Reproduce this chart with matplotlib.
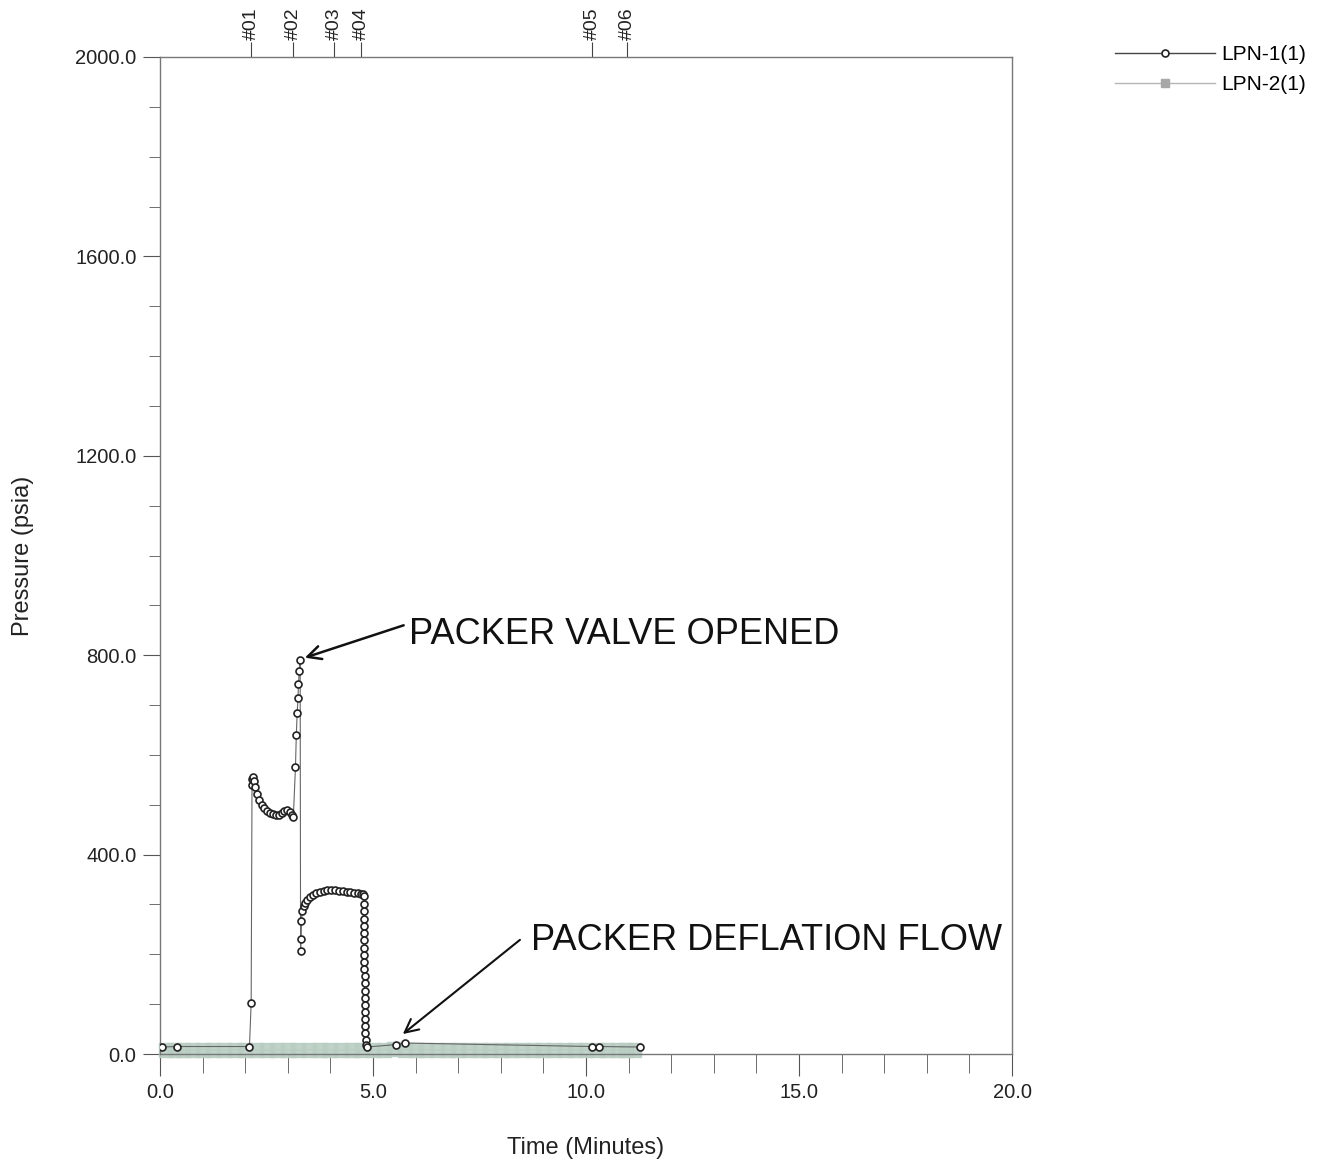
import numpy as np
import matplotlib
matplotlib.use('Agg')
import matplotlib.pyplot as plt
from matplotlib.lines import Line2D
from matplotlib.ticker import MultipleLocator, FormatStrFormatter

plt.rcParams['font.family'] = ['Liberation Sans', 'DejaVu Sans']

# LPN-1(1) pressure record, split by test phase (minutes, psia)
base_t = [0.05, 0.40, 2.10]
base_p = [14, 15, 15]
shutin_t = [2.14, 2.16, 2.17, 2.19, 2.21, 2.24, 2.28, 2.33, 2.39, 2.45, 2.52,
            2.59, 2.66, 2.73, 2.80, 2.86, 2.92, 2.98, 3.04, 3.09, 3.13]
shutin_p = [102, 540, 552, 555, 548, 536, 522, 510, 500, 493, 488,
            484, 481, 479, 480, 484, 488, 490, 486, 480, 475]
valve_t = [3.18, 3.20, 3.22, 3.24, 3.25, 3.27, 3.29]
valve_p = [576, 640, 685, 714, 742, 769, 790]
hump_t = [3.30, 3.31, 3.32, 3.34, 3.37, 3.41, 3.46, 3.52, 3.59, 3.67, 3.75, 3.84,
          3.93, 4.02, 4.11, 4.20, 4.29, 4.38, 4.47, 4.56, 4.64, 4.71, 4.76]
hump_p = [207, 231, 267, 287, 296, 303, 309, 314, 318, 322, 325, 327,
          328, 328, 328, 327, 326, 325, 324, 323, 322, 321, 320]
drop_t = [4.78, 4.79, 4.79, 4.79, 4.79, 4.80, 4.80, 4.80, 4.80, 4.80, 4.80,
          4.81, 4.81, 4.81, 4.81, 4.81, 4.81, 4.82, 4.82, 4.82, 4.83]
drop_p = [316, 301, 286, 271, 257, 242, 228, 213, 199, 185, 170,
          156, 142, 127, 113, 99, 85, 70, 56, 42, 28]
tail_t = [4.84, 4.86, 5.55, 5.75, 10.15, 10.30, 11.27]
tail_p = [18, 14, 19, 22, 15, 15, 14]

# LPN-2(1) record
lpn2_t = [0.15, 0.35, 0.55, 0.75, 1.00, 1.25, 1.50, 1.75, 2.00, 2.25, 2.50, 2.75,
          3.00, 3.25, 3.50, 3.75, 4.00, 4.25, 4.50, 4.75, 5.00, 5.25, 5.50, 5.75,
          6.00, 6.25, 6.50, 6.75, 7.00, 7.25, 7.50, 7.75, 8.00, 8.25, 8.50, 8.75,
          9.00, 9.25, 9.50, 9.75, 10.00, 10.25, 10.50, 10.75, 10.95, 11.12]
lpn2_p = [8, 9, 8, 8, 9, 8, 8, 9, 8, 8, 8, 9,
          8, 8, 9, 8, 8, 8, 9, 8, 9, 9, 10, 9,
          9, 9, 8, 9, 8, 9, 8, 8, 9, 8, 8, 9,
          8, 8, 9, 8, 8, 9, 8, 8, 8, 8]

# event markers along the top
event_t = [2.14, 3.13, 4.09, 4.72, 10.15, 10.97]
event_lab = ['#01', '#02', '#03', '#04', '#05', '#06']

lpn1_t = base_t + shutin_t + valve_t + hump_t + drop_t + tail_t
lpn1_p = base_p + shutin_p + valve_p + hump_p + drop_p + tail_p

fig = plt.figure(figsize=(13.26, 11.64), dpi=100)
ax = fig.add_axes([160/1326, 1-1054/1164, 852/1326, 997/1164])

grey2 = '#b9cdc3'
ax.plot(lpn2_t, lpn2_p, '-', marker='s', markersize=10, color=grey2,
        markerfacecolor=grey2, markeredgecolor=grey2, lw=0.8, alpha=0.9, zorder=2,
        clip_on=False)
ax.plot(lpn1_t, lpn1_p, '-', marker='o', markersize=5, color='#666666', lw=0.8,
        markerfacecolor='white', markeredgecolor='#222222', markeredgewidth=1.2, zorder=3)

ax.set_xlim(0, 20)
ax.set_ylim(0, 2000)
ax.xaxis.set_major_locator(MultipleLocator(5))
ax.xaxis.set_minor_locator(MultipleLocator(1))
ax.yaxis.set_major_locator(MultipleLocator(400))
ax.yaxis.set_minor_locator(MultipleLocator(100))
ax.xaxis.set_major_formatter(FormatStrFormatter('%.1f'))
ax.yaxis.set_major_formatter(FormatStrFormatter('%.1f'))
ax.tick_params(axis='both', which='both', direction='out', colors='#555555',
               labelcolor='#222222', labelsize=14.5)
ax.tick_params(axis='x', which='major', length=16, pad=5)
ax.tick_params(axis='x', which='minor', length=14)
ax.tick_params(axis='y', which='major', length=12, pad=5)
ax.tick_params(axis='y', which='minor', length=8)
for s in ax.spines.values():
    s.set_color('#777777')
    s.set_linewidth(1.0)

ax.set_xlabel('Time (Minutes)', fontsize=17, color='#222222')
ax.set_ylabel('Pressure (psia)', fontsize=17, color='#222222')
ax.xaxis.set_label_coords(0.5, -0.083)
ax.yaxis.set_label_coords(-0.148, 0.5)

top = ax.secondary_xaxis('top')
top.set_xticks(event_t)
top.set_xticklabels(event_lab, rotation=90, fontsize=14, color='#222222')
top.tick_params(direction='out', length=11, pad=1, colors='#444444', labelcolor='#222222')
top.spines['top'].set_visible(False)

# handwritten notes
ax.annotate('', xy=(3.40, 795), xytext=(5.72, 860),
            arrowprops=dict(arrowstyle='->', color='#111111', lw=1.8,
                            shrinkA=0, shrinkB=0, mutation_scale=24))
ax.text(5.85, 842, 'PACKER VALVE OPENED', fontsize=26, color='#111111',
        va='center', ha='left')
ax.annotate('', xy=(5.7, 40), xytext=(8.45, 229),
            arrowprops=dict(arrowstyle='->', color='#111111', lw=1.5,
                            shrinkA=0, shrinkB=0, mutation_scale=24))
ax.text(8.7, 228, 'PACKER DEFLATION FLOW', fontsize=26, color='#111111',
        va='center', ha='left')

handles = [Line2D([], [], color='#444444', lw=1, marker='o', markersize=5,
                  markerfacecolor='white', markeredgecolor='#222222', markeredgewidth=1.2),
           Line2D([], [], color='#b5b5b5', lw=1, marker='s', markersize=6,
                  markerfacecolor='#a8a8a8', markeredgecolor='#a8a8a8')]
fig.legend(handles, ['LPN-1(1)', 'LPN-2(1)'], loc='upper left',
           bbox_to_anchor=(1115/1326, 1-45/1164), frameon=False, fontsize=15,
           handlelength=4.8, handletextpad=0.3, labelspacing=0.55,
           borderpad=0, borderaxespad=0)

fig.savefig('out.png', dpi=100)
